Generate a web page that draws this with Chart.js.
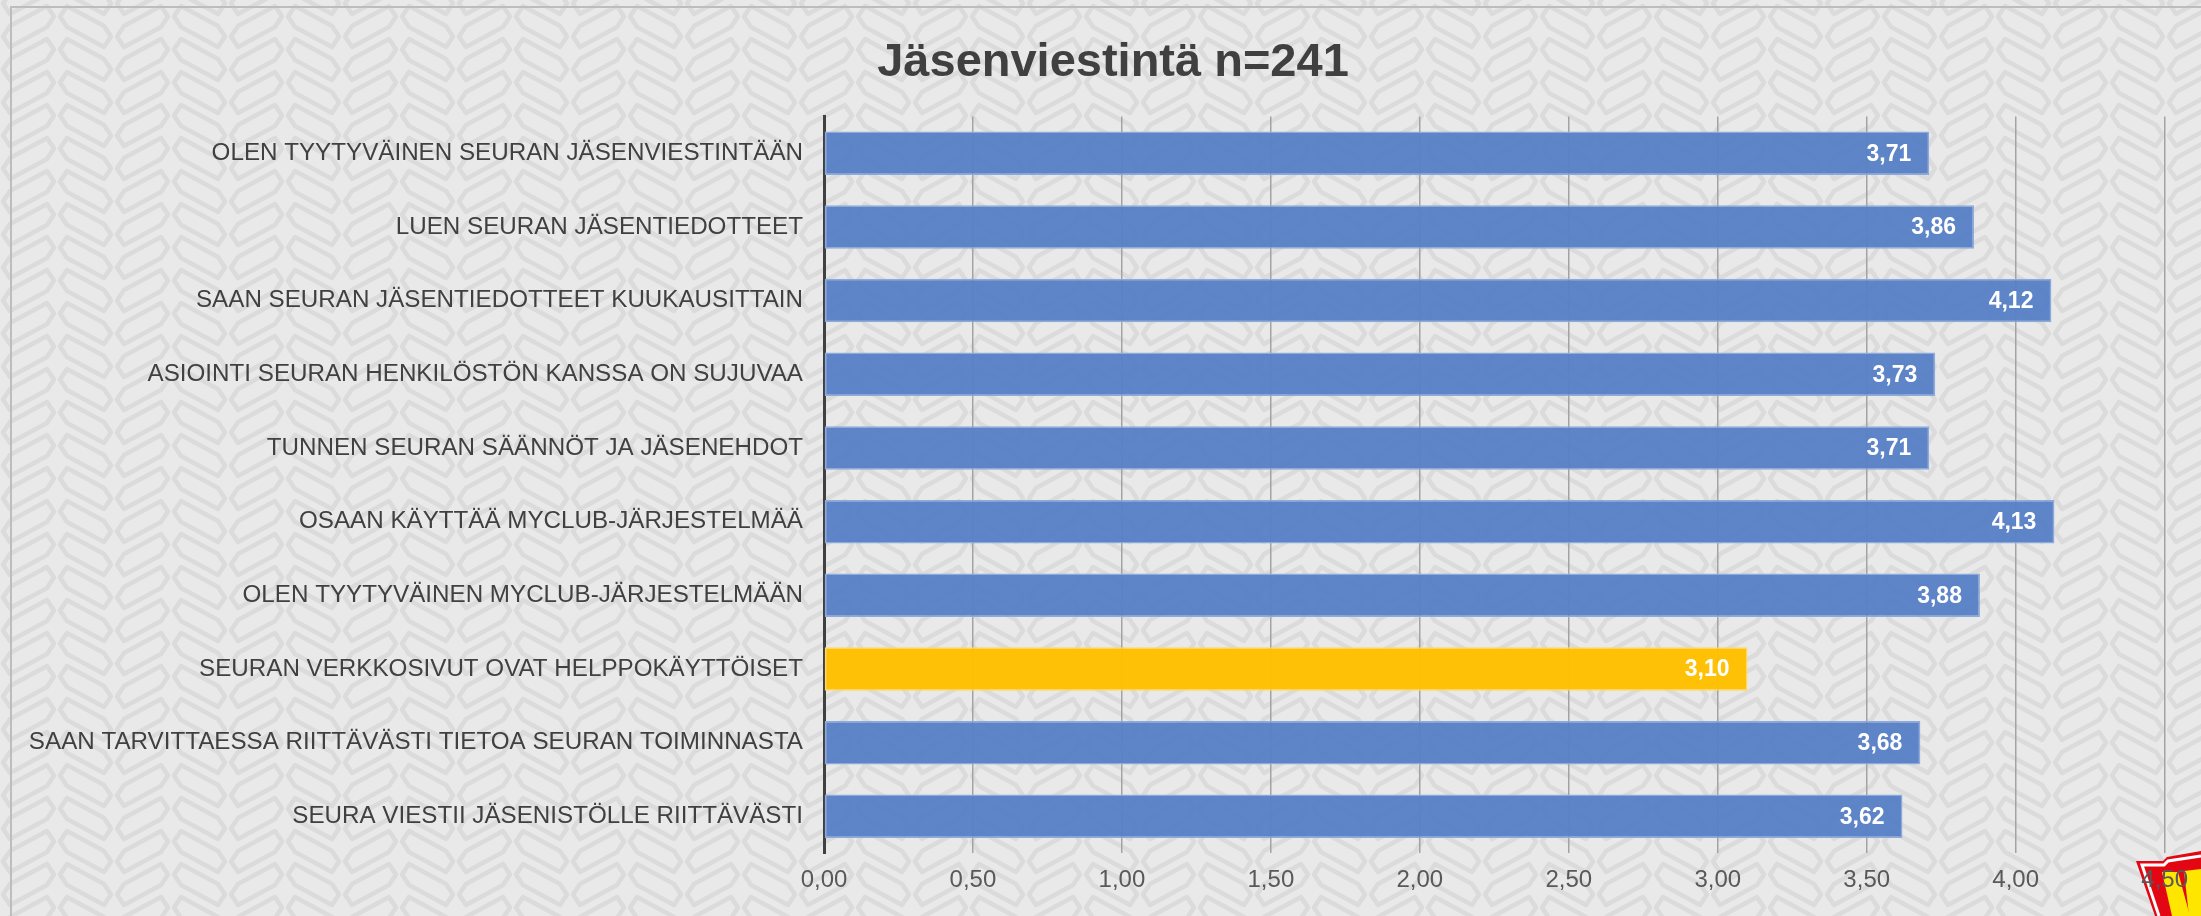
<!DOCTYPE html>
<html>
<head>
<meta charset="utf-8">
<script src="https://cdn.jsdelivr.net/npm/chart.js@4"></script>
<style>
  html, body { margin: 0; padding: 0; background: #e9e9e9; }
  #wrap { width: 2201px; height: 916px; }
</style>
</head>
<body>
<div id="wrap"><canvas id="myChart" width="2201" height="916"></canvas></div>
<script>
const chartTitle = "Jäsenviestintä n=241";

const categories = [
  "OLEN TYYTYVÄINEN SEURAN JÄSENVIESTINTÄÄN",
  "LUEN SEURAN JÄSENTIEDOTTEET",
  "SAAN SEURAN JÄSENTIEDOTTEET KUUKAUSITTAIN",
  "ASIOINTI SEURAN HENKILÖSTÖN KANSSA ON SUJUVAA",
  "TUNNEN SEURAN SÄÄNNÖT JA JÄSENEHDOT",
  "OSAAN KÄYTTÄÄ MYCLUB-JÄRJESTELMÄÄ",
  "OLEN TYYTYVÄINEN MYCLUB-JÄRJESTELMÄÄN",
  "SEURAN VERKKOSIVUT OVAT HELPPOKÄYTTÖISET",
  "SAAN TARVITTAESSA RIITTÄVÄSTI TIETOA SEURAN TOIMINNASTA",
  "SEURA VIESTII JÄSENISTÖLLE RIITTÄVÄSTI"
];

const averages = [3.71, 3.86, 4.12, 3.73, 3.71, 4.13, 3.88, 3.10, 3.68, 3.62];

const highlighted = ["SEURAN VERKKOSIVUT OVAT HELPPOKÄYTTÖISET"];

const xMin = 0;
const xMax = 4.5;
const xStep = 0.5;

const fmt = (v) => v.toFixed(2).replace(".", ",");

// light grey background with a herringbone chain pattern
const makePattern = (ctx) => {
  const tile = document.createElement("canvas");
  tile.width = 114;
  tile.height = 66;
  const t = tile.getContext("2d");
  t.fillStyle = "#e9e9e9";
  t.fillRect(0, 0, tile.width, tile.height);
  t.strokeStyle = "#dbdbdb";
  t.lineWidth = 4.5;
  t.lineJoin = "round";

  const band = (x0, x1, y0, slope, h) => {
    t.beginPath();
    t.moveTo(x0, y0 + h / 2);
    t.lineTo(x0 + 7, y0);
    t.lineTo(x1 - 7, y0 + slope);
    t.lineTo(x1, y0 + slope + h / 2);
    t.lineTo(x1 - 7, y0 + slope + h);
    t.lineTo(x0 + 7, y0 + h);
    t.closePath();
    t.stroke();
  };

  for (let y = -66; y <= 99; y += 33) {
    band(3, 54, y + 26, -20, 21);
    band(60, 111, y + 6, 20, 21);
  }
  return ctx.createPattern(tile, "repeat");
};

const drawLogo = (ctx) => {
  ctx.save();
  ctx.fillStyle = "#e30613";
  ctx.beginPath();
  ctx.moveTo(2136, 861);
  ctx.lineTo(2163, 861);
  ctx.lineTo(2167, 857);
  ctx.lineTo(2201, 851);
  ctx.lineTo(2201, 916);
  ctx.lineTo(2155, 916);
  ctx.closePath();
  ctx.fill();

  ctx.strokeStyle = "#ffffff";
  ctx.lineWidth = 3;
  ctx.beginPath();
  ctx.moveTo(2159, 916);
  ctx.lineTo(2142, 865);
  ctx.lineTo(2164, 865);
  ctx.lineTo(2168, 861);
  ctx.lineTo(2201, 856);
  ctx.stroke();

  ctx.fillStyle = "#ffe600";
  ctx.beginPath();
  ctx.moveTo(2162, 872);
  ctx.lineTo(2178, 872);
  ctx.lineTo(2190, 916);
  ctx.lineTo(2172, 916);
  ctx.closePath();
  ctx.fill();
  ctx.beginPath();
  ctx.moveTo(2184, 871);
  ctx.lineTo(2201, 869);
  ctx.lineTo(2201, 916);
  ctx.lineTo(2189, 916);
  ctx.closePath();
  ctx.fill();
  ctx.restore();
};

const backgroundPlugin = {
  id: "background",
  beforeDraw(chart) {
    const ctx = chart.ctx;
    ctx.save();
    ctx.fillStyle = makePattern(ctx);
    ctx.fillRect(0, 0, chart.width, chart.height);
    ctx.strokeStyle = "#bdbdbd";
    ctx.lineWidth = 2;
    ctx.strokeRect(11, 7, chart.width + 50, chart.height + 50);
    ctx.restore();
    drawLogo(ctx);
  }
};

// let the long category labels use the space left of the layout padding
const labelRoomPlugin = {
  id: "labelRoom",
  afterLayout(chart) {
    chart.scales.y.left = 0;
  }
};

const valueLabelsPlugin = {
  id: "valueLabels",
  afterDatasetsDraw(chart) {
    const ctx = chart.ctx;
    const meta = chart.getDatasetMeta(0);
    ctx.save();
    ctx.font = "bold 23px 'Liberation Sans', Arial, sans-serif";
    ctx.fillStyle = "#ffffff";
    ctx.textAlign = "right";
    ctx.textBaseline = "middle";
    meta.data.forEach((bar, i) => {
      ctx.fillText(fmt(averages[i]), bar.x - 18, bar.y + 1);
    });
    ctx.restore();
  }
};

const barColors = categories.map(c => highlighted.includes(c) ? "rgba(255, 192, 0, 0.98)" : "rgba(88, 128, 199, 0.96)");
const barBorders = categories.map(c => highlighted.includes(c) ? "#ffd966" : "#8eaadc");

const ctx = document.getElementById("myChart").getContext("2d");
const myChart = new Chart(ctx, {
  type: "bar",
  data: {
    labels: categories,
    datasets: [
      {
        label: "Keskiarvo",
        data: averages,
        backgroundColor: barColors,
        borderColor: barBorders,
        borderWidth: 1.5,
        borderSkipped: false,
        barPercentage: 0.59,
        categoryPercentage: 1.0,
      },
    ],
  },
  options: {
    indexAxis: "y",
    responsive: false,
    animation: false,
    devicePixelRatio: 1,
    layout: {
      padding: { left: 61, right: 36, top: 0, bottom: 8 },
    },
    plugins: {
      legend: { display: false },
      tooltip: { enabled: false },
      title: {
        display: true,
        text: chartTitle,
        color: "#404040",
        font: { family: "'Liberation Sans', Arial, sans-serif", size: 47, weight: "bold" },
        padding: { top: 35, bottom: 25 },
      },
    },
    scales: {
      x: {
        min: xMin,
        max: xMax,
        ticks: {
          stepSize: xStep,
          color: "#595959",
          padding: 13,
          font: { family: "'Liberation Sans', Arial, sans-serif", size: 24 },
          callback: (v) => fmt(v),
        },
        grid: {
          color: "#a3a3a3",
          lineWidth: 1.5,
          drawTicks: false,
        },
        border: { display: false },
      },
      y: {
        afterFit(scale) {
          scale.width = 763;
        },
        ticks: {
          color: "#404040",
          padding: 21,
          font: { family: "'Liberation Sans', Arial, sans-serif", size: 24.2 },
        },
        grid: { display: false, drawTicks: false },
        border: { display: true, color: "#404040", width: 3 },
      },
    },
  },
  plugins: [backgroundPlugin, labelRoomPlugin, valueLabelsPlugin],
});
</script>
</body>
</html>
